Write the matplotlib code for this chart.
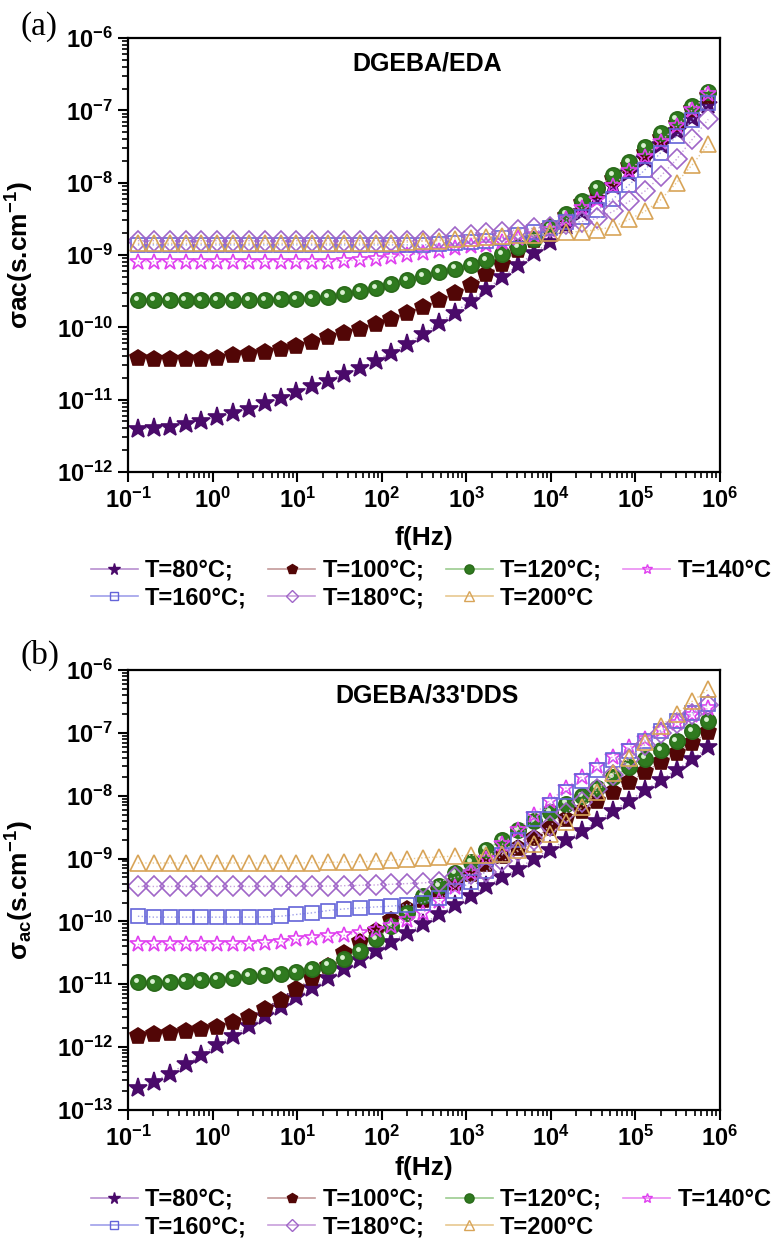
import numpy as np
import matplotlib
matplotlib.use('Agg')
import matplotlib.pyplot as plt
import matplotlib.transforms as mtransforms
from matplotlib.lines import Line2D
from matplotlib.ticker import LogLocator, NullFormatter, FuncFormatter

# fonts: Arial-like bold everywhere
plt.rcParams['font.family'] = ['Liberation Sans', 'DejaVu Sans']
plt.rcParams['font.weight'] = 'bold'
plt.rcParams['axes.labelweight'] = 'bold'
plt.rcParams['mathtext.fontset'] = 'custom'
plt.rcParams['mathtext.rm'] = 'Liberation Sans:bold'
plt.rcParams['mathtext.it'] = 'Liberation Sans:bold'
plt.rcParams['mathtext.bf'] = 'Liberation Sans:bold'
plt.rcParams['mathtext.default'] = 'rm'

# frequency sweep (Hz)
freq_hz = [0.131, 0.202, 0.310, 0.479, 0.736, 1.13, 1.75, 2.69, 4.13, 6.37,
           9.79, 15.1, 23.2, 35.7, 55.0, 84.7, 130, 200, 308, 475,
           731, 1125, 1730, 2670, 4100, 6320, 9730, 1.50e4, 2.31e4, 3.55e4,
           5.46e4, 8.40e4, 1.29e5, 1.99e5, 3.06e5, 4.72e5, 7.26e5]

temps = ['T=80°C;', 'T=100°C;', 'T=120°C;', 'T=140°C', 'T=160°C;', 'T=180°C;', 'T=200°C']

# (a) DGEBA/EDA  sigma_ac (S/cm)
sig_a_80 = [3.9e-12, 4.0e-12, 4.2e-12, 4.6e-12, 5.1e-12, 5.7e-12, 6.5e-12, 7.5e-12, 8.9e-12, 1.05e-11,
            1.28e-11, 1.55e-11, 1.83e-11, 2.26e-11, 2.71e-11, 3.46e-11, 4.47e-11, 5.9e-11, 8.1e-11, 1.14e-10,
            1.6e-10, 2.34e-10, 3.35e-10, 4.9e-10, 7.3e-10, 1.05e-9, 1.53e-9, 2.5e-9, 3.9e-9, 6.0e-9,
            9.1e-9, 1.38e-8, 2.14e-8, 3.3e-8, 5.1e-8, 7.9e-8, 1.2e-7]
sig_a_100 = [3.8e-11, 3.7e-11, 3.7e-11, 3.7e-11, 3.7e-11, 3.8e-11, 4.1e-11, 4.3e-11, 4.6e-11, 5.0e-11,
             5.5e-11, 6.2e-11, 7.3e-11, 8.4e-11, 9.6e-11, 1.12e-10, 1.32e-10, 1.58e-10, 1.91e-10, 2.36e-10,
             2.99e-10, 3.9e-10, 5.4e-10, 7.6e-10, 1.17e-9, 1.62e-9, 2.4e-9, 3.5e-9, 5.2e-9, 7.6e-9,
             1.12e-8, 1.7e-8, 2.6e-8, 4.1e-8, 6.5e-8, 1.05e-7, 1.58e-7]
sig_a_120 = [2.4e-10, 2.4e-10, 2.4e-10, 2.4e-10, 2.4e-10, 2.4e-10, 2.4e-10, 2.4e-10, 2.4e-10, 2.44e-10,
             2.47e-10, 2.57e-10, 2.65e-10, 2.86e-10, 3.18e-10, 3.53e-10, 3.93e-10, 4.5e-10, 5.1e-10, 5.8e-10,
             6.5e-10, 7.3e-10, 8.5e-10, 1.03e-9, 1.3e-9, 1.66e-9, 2.45e-9, 3.7e-9, 5.5e-9, 8.4e-9,
             1.29e-8, 1.94e-8, 3.1e-8, 4.8e-8, 7.5e-8, 1.15e-7, 1.82e-7]
sig_a_140 = [8.1e-10, 8.1e-10, 8.1e-10, 8.1e-10, 8.1e-10, 8.1e-10, 8.1e-10, 8.1e-10, 8.1e-10, 8.1e-10,
             8.1e-10, 8.1e-10, 8.1e-10, 8.3e-10, 8.5e-10, 8.9e-10, 9.5e-10, 1.0e-9, 1.05e-9, 1.15e-9,
             1.23e-9, 1.32e-9, 1.38e-9, 1.53e-9, 1.7e-9, 1.9e-9, 2.24e-9, 3.1e-9, 4.5e-9, 5.8e-9,
             9.1e-9, 1.45e-8, 2.3e-8, 3.7e-8, 6.0e-8, 1.02e-7, 1.7e-7]
sig_a_160 = [1.38e-9, 1.38e-9, 1.38e-9, 1.38e-9, 1.38e-9, 1.38e-9, 1.38e-9, 1.38e-9, 1.38e-9, 1.38e-9,
             1.38e-9, 1.38e-9, 1.38e-9, 1.38e-9, 1.38e-9, 1.38e-9, 1.38e-9, 1.38e-9, 1.38e-9, 1.41e-9,
             1.45e-9, 1.51e-9, 1.58e-9, 1.74e-9, 1.9e-9, 2.1e-9, 2.34e-9, 2.9e-9, 3.4e-9, 4.2e-9,
             6.0e-9, 9.3e-9, 1.5e-8, 2.6e-8, 4.4e-8, 7.4e-8, 1.26e-7]
sig_a_180 = [1.58e-9, 1.58e-9, 1.58e-9, 1.58e-9, 1.58e-9, 1.58e-9, 1.58e-9, 1.58e-9, 1.58e-9, 1.58e-9,
             1.58e-9, 1.58e-9, 1.58e-9, 1.58e-9, 1.58e-9, 1.58e-9, 1.58e-9, 1.58e-9, 1.58e-9, 1.66e-9,
             1.78e-9, 1.9e-9, 2.0e-9, 2.1e-9, 2.24e-9, 2.34e-9, 2.45e-9, 2.7e-9, 2.9e-9, 3.2e-9,
             4.0e-9, 5.5e-9, 7.6e-9, 1.23e-8, 2.1e-8, 4.0e-8, 7.5e-8]
sig_a_200 = [1.45e-9, 1.45e-9, 1.45e-9, 1.45e-9, 1.45e-9, 1.45e-9, 1.45e-9, 1.45e-9, 1.45e-9, 1.45e-9,
             1.45e-9, 1.45e-9, 1.45e-9, 1.45e-9, 1.45e-9, 1.45e-9, 1.48e-9, 1.51e-9, 1.55e-9, 1.58e-9,
             1.66e-9, 1.7e-9, 1.78e-9, 1.82e-9, 1.9e-9, 1.9e-9, 2.0e-9, 2.1e-9, 2.1e-9, 2.24e-9,
             2.45e-9, 3.1e-9, 4.0e-9, 5.8e-9, 1.0e-8, 1.78e-8, 3.4e-8]

# (b) DGEBA/33'DDS  sigma_ac (S/cm)
sig_b_80 = [2.2e-13, 2.8e-13, 3.8e-13, 5.3e-13, 7.5e-13, 1.08e-12, 1.53e-12, 2.16e-12, 3.1e-12, 4.4e-12,
            6.3e-12, 8.8e-12, 1.24e-11, 1.72e-11, 2.4e-11, 3.4e-11, 4.7e-11, 6.6e-11, 9.1e-11, 1.29e-10,
            1.83e-10, 2.58e-10, 3.6e-10, 5.0e-10, 6.9e-10, 1.0e-9, 1.39e-9, 1.95e-9, 2.7e-9, 3.9e-9,
            5.8e-9, 8.2e-9, 1.22e-8, 1.76e-8, 2.6e-8, 3.8e-8, 5.9e-8]
sig_b_100 = [1.53e-12, 1.59e-12, 1.65e-12, 1.8e-12, 1.91e-12, 2.08e-12, 2.5e-12, 3.0e-12, 4.0e-12, 5.7e-12,
             8.5e-12, 1.27e-11, 1.94e-11, 3.1e-11, 4.7e-11, 7.0e-11, 1.07e-10, 1.55e-10, 2.23e-10, 3.1e-10,
             4.1e-10, 5.6e-10, 8.2e-10, 1.09e-9, 1.48e-9, 2.1e-9, 3.1e-9, 4.2e-9, 5.7e-9, 8.1e-9,
             1.13e-8, 1.63e-8, 2.4e-8, 3.4e-8, 4.8e-8, 6.9e-8, 1.02e-7]
sig_b_120 = [1.08e-11, 1.05e-11, 1.08e-11, 1.11e-11, 1.15e-11, 1.19e-11, 1.25e-11, 1.35e-11, 1.43e-11, 1.48e-11,
             1.56e-11, 1.72e-11, 1.99e-11, 2.5e-11, 3.4e-11, 5.2e-11, 8.6e-11, 1.37e-10, 2.5e-10, 3.6e-10,
             5.9e-10, 8.7e-10, 1.39e-9, 2.0e-9, 2.8e-9, 3.9e-9, 5.5e-9, 7.5e-9, 1.0e-8, 1.33e-8,
             2.0e-8, 2.9e-8, 3.9e-8, 5.4e-8, 7.5e-8, 1.06e-7, 1.56e-7]
sig_b_140 = [4.3e-11, 4.3e-11, 4.3e-11, 4.3e-11, 4.3e-11, 4.3e-11, 4.3e-11, 4.4e-11, 4.6e-11, 4.7e-11,
             5.2e-11, 5.5e-11, 5.8e-11, 6.0e-11, 6.6e-11, 7.2e-11, 8.4e-11, 1.05e-10, 1.37e-10, 2.1e-10,
             3.5e-10, 6.0e-10, 1.0e-9, 1.68e-9, 2.8e-9, 5.0e-9, 8.3e-9, 1.32e-8, 2.0e-8, 3.0e-8,
             4.2e-8, 5.9e-8, 8.1e-8, 1.1e-7, 1.45e-7, 1.9e-7, 2.45e-7]
sig_b_160 = [1.21e-10, 1.17e-10, 1.17e-10, 1.17e-10, 1.17e-10, 1.17e-10, 1.17e-10, 1.17e-10, 1.18e-10, 1.21e-10,
             1.29e-10, 1.37e-10, 1.49e-10, 1.58e-10, 1.64e-10, 1.7e-10, 1.75e-10, 1.85e-10, 2.0e-10, 2.4e-10,
             3.0e-10, 4.2e-10, 6.3e-10, 1.16e-9, 2.0e-9, 4.2e-9, 7.1e-9, 1.15e-8, 1.74e-8, 2.6e-8,
             3.7e-8, 5.2e-8, 7.4e-8, 1.07e-7, 1.55e-7, 2.1e-7, 2.9e-7]
sig_b_180 = [3.6e-10, 3.6e-10, 3.6e-10, 3.6e-10, 3.6e-10, 3.6e-10, 3.6e-10, 3.6e-10, 3.6e-10, 3.6e-10,
             3.6e-10, 3.6e-10, 3.65e-10, 3.7e-10, 3.75e-10, 3.8e-10, 3.9e-10, 4.0e-10, 4.1e-10, 4.3e-10,
             5.0e-10, 5.6e-10, 6.1e-10, 9.0e-10, 1.3e-9, 2.0e-9, 3.3e-9, 5.3e-9, 7.8e-9, 1.3e-8,
             2.1e-8, 3.8e-8, 6.5e-8, 1.0e-7, 1.45e-7, 2.0e-7, 2.8e-7]
sig_b_200 = [8.5e-10, 8.5e-10, 8.5e-10, 8.5e-10, 8.5e-10, 8.5e-10, 8.5e-10, 8.5e-10, 8.5e-10, 8.5e-10,
             8.5e-10, 8.6e-10, 8.7e-10, 8.8e-10, 8.9e-10, 9.1e-10, 9.4e-10, 9.8e-10, 1.03e-9, 1.06e-9,
             1.1e-9, 1.13e-9, 1.15e-9, 1.2e-9, 1.35e-9, 1.7e-9, 2.5e-9, 3.8e-9, 6.5e-9, 1.15e-8,
             2.3e-8, 4.0e-8, 7.2e-8, 1.3e-7, 2.0e-7, 3.2e-7, 4.9e-7]

# marker styles per temperature: marker, size, face, edge, line
styles = [
    ('*', 14, '#4a0a6a', '#4a0a6a', '#b88fcf'),
    ('p', 12, '#520606', '#520606', '#c49a9a'),
    ('o', 11, '#2f7a1f', '#2a6a1a', '#9ccc90'),
    ('*', 12, 'none', '#e040f0', '#ea8cf2'),
    ('s', 10, 'none', '#6464d8', '#a0a0ea'),
    ('D', 10, 'none', '#a066c8', '#c8a0dc'),
    ('^', 12, 'none', '#d8a458', '#e8c890'),
]


def draw_panel(ax, series, title, ylabel, ylim):
    for (mk, ms, fc, ec, lc), sig in zip(styles, series):
        ax.plot(freq_hz, sig, ls=':', lw=1.0, color=lc, marker=mk, ms=ms,
                mfc=fc, mec=ec, mew=1.2)
        if mk == 'o':
            # small highlight to give the spheres their shiny look
            hl = mtransforms.offset_copy(ax.transData, fig=ax.figure, x=-1.5, y=1.5, units='points')
            ax.plot(freq_hz, sig, ls='none', marker='o', ms=3.5, mfc='#d8f0d0',
                    mec='none', transform=hl)
    ax.set_xscale('log')
    ax.set_yscale('log')
    ax.set_xlim(1e-1, 1e6)
    ax.set_ylim(*ylim)
    ax.xaxis.set_major_locator(LogLocator(base=10, numticks=20))
    ax.yaxis.set_major_locator(LogLocator(base=10, numticks=20))
    ax.xaxis.set_minor_locator(LogLocator(base=10, subs=np.arange(2, 10), numticks=20))
    ax.yaxis.set_minor_locator(LogLocator(base=10, subs=np.arange(2, 10), numticks=20))
    fmt = FuncFormatter(lambda v, p: '$10^{%d}$' % int(round(np.log10(v))))
    ax.xaxis.set_major_formatter(fmt)
    ax.yaxis.set_major_formatter(fmt)
    ax.xaxis.set_minor_formatter(NullFormatter())
    ax.yaxis.set_minor_formatter(NullFormatter())
    ax.tick_params(which='major', direction='out', length=7, width=1.5, labelsize=17, pad=4)
    ax.tick_params(which='minor', direction='out', length=4, width=1.2)
    for sp in ax.spines.values():
        sp.set_linewidth(1.6)
    ax.text(0.505, 0.942, title, transform=ax.transAxes, ha='center', va='center',
            fontsize=18, fontweight='bold')
    ax.set_ylabel(ylabel, fontsize=19, fontweight='bold')
    ax.yaxis.set_label_coords(-0.155, 0.5)
    ax.set_xlabel('f(Hz)', fontsize=19, fontweight='bold')


fig = plt.figure(figsize=(7.72, 12.47), dpi=100)
W, H = 772.0, 1247.0

ax1 = fig.add_axes([128 / W, 1 - 472 / H, 592 / W, 434 / H])
draw_panel(ax1, [sig_a_80, sig_a_100, sig_a_120, sig_a_140, sig_a_160, sig_a_180, sig_a_200],
           'DGEBA/EDA', 'σac(s.cm$^{-1}$)', (1e-12, 1e-6))
ax1.xaxis.set_label_coords(0.5, -0.125)

ax2 = fig.add_axes([128 / W, 1 - 1110 / H, 592 / W, 440 / H])
draw_panel(ax2, [sig_b_80, sig_b_100, sig_b_120, sig_b_140, sig_b_160, sig_b_180, sig_b_200],
           "DGEBA/33'DDS", 'σ$_{ac}$(s.cm$^{-1}$)', (1e-13, 1e-6))
ax2.xaxis.set_label_coords(0.5, -0.105)

# legends (solid thin line through a small marker), filled row by row
handles = [Line2D([], [], color=lc, lw=1.2, marker=mk, ms=ms * 0.6, mfc=fc, mec=ec, mew=1.0)
           for (mk, ms, fc, ec, lc) in styles]
order = [0, 4, 1, 5, 2, 6, 3]
for ytop in (547, 1176):
    fig.legend([handles[i] for i in order], [temps[i] for i in order], loc='upper center',
               bbox_to_anchor=(431 / W, 1 - ytop / H),
               ncol=4, frameon=False, fontsize=17, handlelength=2.0, handletextpad=0.3,
               columnspacing=0.9, labelspacing=0.2, borderpad=0.0)

fig.text(20 / W, 1 - 27 / H, '(a)', fontsize=24, fontweight='normal', family='Liberation Serif',
         ha='left', va='center')
fig.text(20 / W, 1 - 655 / H, '(b)', fontsize=24, fontweight='normal', family='Liberation Serif',
         ha='left', va='center')

fig.savefig('out.png', dpi=100)
